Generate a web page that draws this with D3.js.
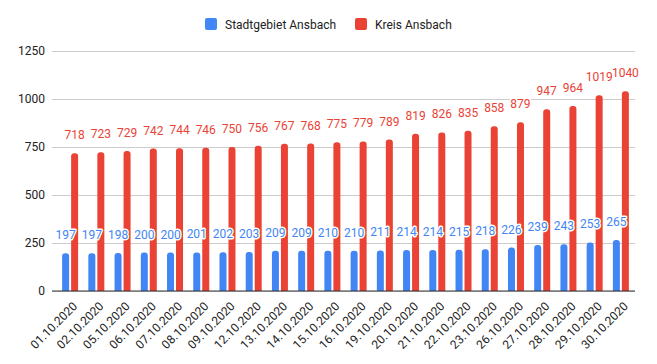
<!DOCTYPE html>
<html>
<head>
<meta charset="utf-8">
<script src="https://cdn.jsdelivr.net/npm/d3@7"></script>
<style>
  body { margin: 0; background: #fff; }
  svg { font-family: Roboto, Arial, sans-serif; }
</style>
</head>
<body>
<svg id="chart" width="657" height="364"></svg>
<script>
const dates = ['01.10.2020', '02.10.2020', '05.10.2020', '06.10.2020', '07.10.2020', '08.10.2020',
  '09.10.2020', '12.10.2020', '13.10.2020', '14.10.2020', '15.10.2020', '16.10.2020', '19.10.2020',
  '20.10.2020', '21.10.2020', '22.10.2020', '23.10.2020', '26.10.2020', '27.10.2020', '28.10.2020',
  '29.10.2020', '30.10.2020']
const stadt = [197, 197, 198, 200, 200, 201, 202, 203, 209, 209, 210, 210, 211, 214, 214, 215, 218, 226, 239, 243, 253, 265]
const kreis = [718, 723, 729, 742, 744, 746, 750, 756, 767, 768, 775, 779, 789, 819, 826, 835, 858, 879, 947, 964, 1019, 1040]
const seriesNames = ['Stadtgebiet Ansbach', 'Kreis Ansbach']
const yTicks = [0, 250, 500, 750, 1000, 1250]

const colors = ['#4285f4', '#ea4335']

function draw() {
  const svg = d3.select('#chart')
  const left = 57, right = 634, top = 51, bottom = 291

  const x = d3.scaleBand()
    .domain(dates)
    .range([left, right])
    .paddingInner(0.39)
    .paddingOuter(0.195)

  const xs = d3.scaleBand()
    .domain([0, 1])
    .range([0, 16])
    .paddingInner(2 / 9)

  const y = d3.scaleLinear()
    .domain([0, 1250])
    .range([bottom, top])

  // gridlines + y labels
  const yAxis = d3.axisLeft(y)
    .tickValues(yTicks)
    .tickFormat(d3.format('d'))
    .tickSize(-(635 - 52))
    .tickPadding(7)

  svg.append('g')
    .attr('transform', 'translate(52,0)')
    .call(yAxis)
    .call(g => g.select('.domain').remove())
    .call(g => g.selectAll('line').attr('stroke', '#cccccc'))
    .call(g => g.selectAll('text')
      .attr('font-size', 12)
      .attr('fill', '#222')
      .attr('font-family', 'Roboto, Arial, sans-serif'))

  const rows = dates.map((d, i) => ({ date: d, vals: [stadt[i], kreis[i]] }))

  function barPath(x0, w, yTop, yBase) {
    const r = Math.min(3, w / 2, (yBase - yTop))
    return `M${x0},${yBase}V${yTop + r}Q${x0},${yTop} ${x0 + r},${yTop}` +
      `H${x0 + w - r}Q${x0 + w},${yTop} ${x0 + w},${yTop + r}V${yBase}Z`
  }

  const groups = svg.append('g')
    .selectAll('g')
    .data(rows)
    .join('g')
    .attr('transform', d => `translate(${x(d.date)},0)`)

  groups.selectAll('path')
    .data(d => d.vals.map((v, k) => ({ v, k })))
    .join('path')
    .attr('d', d => barPath(xs(d.k), xs.bandwidth(), y(d.v), y(0)))
    .attr('fill', d => colors[d.k])

  // baseline
  svg.append('line')
    .attr('x1', 52).attr('x2', 635)
    .attr('y1', y(0)).attr('y2', y(0))
    .attr('stroke', '#333')
    .attr('stroke-width', 1)

  // value labels (red first, blue on top with white halo)
  const labels = svg.append('g')
  ;[1, 0].forEach(k => {
    labels.selectAll('text.s' + k)
      .data(rows)
      .join('text')
      .attr('class', 's' + k)
      .attr('x', d => x(d.date) + xs(k) + xs.bandwidth() / 2)
      .attr('y', d => y(d.vals[k]) - 14)
      .attr('text-anchor', 'middle')
      .attr('font-size', 12)
      .attr('fill', colors[k])
      .attr('stroke', '#fff')
      .attr('stroke-width', 3)
      .attr('stroke-linejoin', 'round')
      .attr('paint-order', 'stroke')
      .text(d => d.vals[k])
  })

  // x labels
  svg.append('g')
    .selectAll('text')
    .data(dates)
    .join('text')
    .attr('transform', d => `translate(${x(d) + x.bandwidth() / 2 + 8},${bottom + 16}) rotate(-45)`)
    .attr('text-anchor', 'end')
    .attr('font-size', 12)
    .attr('fill', '#222')
    .text(d => d)

  // legend
  const legend = svg.append('g')
  const items = [
    { name: seriesNames[0], color: colors[0], x: 205 },
    { name: seriesNames[1], color: colors[1], x: 355 }
  ]
  items.forEach(it => {
    legend.append('rect')
      .attr('x', it.x).attr('y', 18)
      .attr('width', 12).attr('height', 12)
      .attr('rx', 2)
      .attr('fill', it.color)
    legend.append('text')
      .attr('x', it.x + 20).attr('y', 28.5)
      .attr('font-size', 12)
      .attr('fill', '#222')
      .text(it.name)
  })
}

document.addEventListener('DOMContentLoaded', draw, false)
</script>
</body>
</html>
